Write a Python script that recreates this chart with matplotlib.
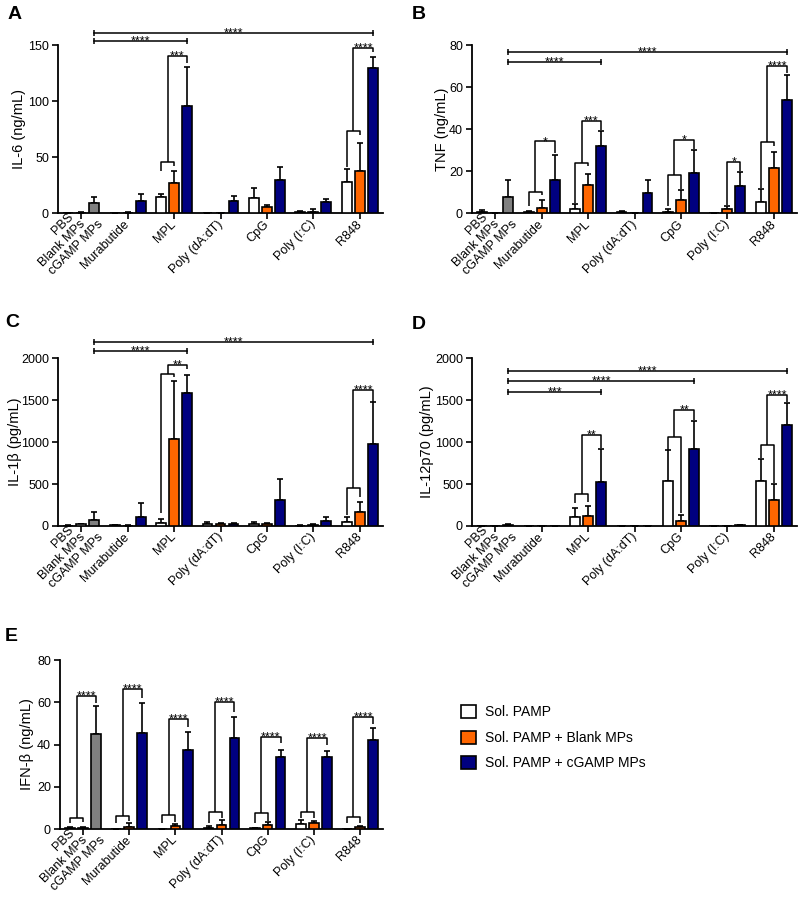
import numpy as np
import matplotlib.pyplot as plt
from matplotlib.patches import Patch

plt.rcParams['font.family'] = ['Liberation Sans', 'DejaVu Sans']

W, H = 800, 897
ORANGE = '#FF6600'
NAVY = '#000080'
GRAY = '#808080'

# x categories: the first group holds the three controls, labelled separately
ctrl_labels = ['PBS', 'Blank MPs', 'cGAMP MPs']
group_labels = ['', 'Murabutide', 'MPL', 'Poly (dA:dT)', 'CpG', 'Poly (I:C)', 'R848']
legend_labels = ['Sol. PAMP', 'Sol. PAMP + Blank MPs', 'Sol. PAMP + cGAMP MPs']

# -----------------------------
# A) IL-6 (ng/mL)
# -----------------------------
il6_sol = [0.2, 0.0, 14.8, 0.0, 14.0, 1.2, 27.6]
il6_sol_err = [0.3, 0.0, 3.0, 0.0, 8.3, 0.8, 11.6]
il6_blank = [0.5, 0.5, 27.3, 0.0, 6.0, 1.5, 38.0]
il6_blank_err = [0.5, 0.5, 10.4, 0.0, 2.0, 2.4, 25.0]
il6_cgamp = [9.0, 11.3, 96.0, 11.0, 29.7, 9.8, 129.8]
il6_cgamp_err = [5.5, 6.2, 34.0, 4.4, 11.9, 2.7, 9.2]
il6_long = [(6, 161, '****'), (2, 153.5, '****')]
il6_groups = [(2, 46, 38, 42, 140.5, 133.6, '***'),
              (6, 73.4, 41, 70, 147.6, 143.5, '****')]
il6_pairs = []

# -----------------------------
# B) TNF (ng/mL)
# -----------------------------
tnf_sol = [0.8, 0.9, 2.0, 0.9, 0.8, 0.0, 5.4]
tnf_sol_err = [0.9, 0.4, 2.6, 0.2, 1.4, 0.0, 6.0]
tnf_blank = [0.0, 2.7, 13.4, 0.3, 6.5, 1.9, 21.5]
tnf_blank_err = [0.0, 3.9, 5.2, 0.0, 4.7, 1.6, 7.8]
tnf_cgamp = [7.7, 15.8, 31.9, 9.6, 19.1, 12.9, 53.8]
tnf_cgamp_err = [8.1, 12.2, 7.4, 6.2, 11.2, 6.7, 12.0]
tnf_long = [(6, 76.8, '****'), (2, 72.1, '****')]
tnf_groups = [(1, 10.3, 3.5, 9.0, 34.2, 28.8, '*'),
              (2, 24.0, 5.2, 22.4, 44.0, 39.8, '***'),
              (4, 18.5, 3.5, 11.8, 35.0, 30.8, '*'),
              (6, 33.9, 12.0, 31.9, 70.2, 66.5, '****')]
tnf_pairs = [(5, 24.3, 4.0, 20.0, '*')]

# -----------------------------
# C) IL-1b (pg/mL)
# -----------------------------
il1b_sol = [5, 8, 32, 20, 24, 5, 48]
il1b_sol_err = [5, 2, 55, 24, 20, 3, 63]
il1b_blank = [20, 4, 1030, 24, 24, 16, 166]
il1b_blank_err = [8, 2, 693, 8, 8, 4, 123]
il1b_cgamp = [71, 111, 1580, 28, 309, 55, 978]
il1b_cgamp_err = [95, 158, 218, 8, 253, 48, 495]
il1b_long = [(6, 2190, '****'), (2, 2079, '****')]
il1b_groups = [(2, 1814, 150, 1774, 1921, 1873, '**'),
               (6, 447, 131, 340, 1616, 1477, '****')]
il1b_pairs = []

# -----------------------------
# D) IL-12p70 (pg/mL)
# -----------------------------
il12_sol = [3, 1, 111, 2, 541, 1, 541]
il12_sol_err = [1, 0, 104, 0, 358, 0, 262]
il12_blank = [2, 1, 123, 1, 60, 3, 314]
il12_blank_err = [0, 0, 116, 0, 67, 0, 187]
il12_cgamp = [16, 1, 525, 2, 914, 6, 1205]
il12_cgamp_err = [4, 0, 397, 0, 334, 2, 254]
il12_long = [(6, 1849, '****'), (4, 1722, '****'), (2, 1594, '***')]
il12_groups = [(2, 378, 278, 290, 1081, 926, '**'),
               (4, 1054, 907, 151, 1384, 1260, '**'),
               (6, 966, 807, 509, 1563, 1471, '****')]
il12_pairs = []

# -----------------------------
# E) IFN-b (ng/mL)
# -----------------------------
ifnb_sol = [0.6, 0.2, 0.2, 0.6, 0.3, 2.2, 0.2]
ifnb_sol_err = [0.5, 0.0, 0.0, 0.8, 0.3, 2.1, 0.0]
ifnb_blank = [0.5, 1.1, 1.6, 1.7, 1.9, 3.0, 0.9]
ifnb_blank_err = [0.3, 1.6, 0.8, 2.6, 1.6, 0.9, 0.5]
ifnb_cgamp = [45.0, 45.3, 37.6, 42.9, 34.2, 33.9, 42.1]
ifnb_cgamp_err = [13.2, 14.2, 8.3, 10.3, 3.2, 3.0, 5.6]
ifnb_long = []
ifnb_groups = [(0, 5.4, 3.0, 3.5, 63.0, 59.5, '****'),
               (1, 6.3, 2.7, 3.9, 66.3, 61.9, '****'),
               (2, 6.6, 2.7, 3.5, 51.9, 48.4, '****'),
               (3, 7.9, 2.7, 5.0, 60.0, 55.5, '****'),
               (4, 7.4, 2.7, 3.9, 43.7, 40.6, '****'),
               (5, 7.9, 5.0, 5.0, 42.9, 39.8, '****'),
               (6, 5.8, 2.7, 2.7, 53.2, 49.7, '****')]
ifnb_pairs = []

OFF = 0.28   # bar offset inside a group
BW = 0.21    # bar width
LW = 1.2
# pixel offsets of the three control labels from the first tick
CTRL_SHIFT = [(-10, 2), (2, 9), (20, 9)]


def br(ax, xs, ys):
    ax.plot(xs, ys, color='black', lw=1.1, clip_on=False, zorder=5,
            solid_capstyle='butt')


def stars(ax, x, y, lab):
    ax.annotate(lab, (x, y), xytext=(0, -2.5), textcoords='offset points',
                ha='center', va='baseline', fontsize=9, annotation_clip=False)


def panel(box, label_right, ymax, ystep, ylabel, series, errs, long_br, grp_br, pair_br):
    x0, y0, x1, y1 = box
    ax = fig.add_axes([x0 / W, 1 - y1 / H, (x1 - x0) / W, (y1 - y0) / H])
    pos = np.arange(len(group_labels))
    colors = [['white'] * 7,
              ['white'] + [ORANGE] * 6,
              [GRAY] + [NAVY] * 6]
    for k, (vals, err) in enumerate(zip(series, errs)):
        xs = pos + (k - 1) * OFF
        ax.errorbar(xs, vals, yerr=[np.zeros(7), err], fmt='none', ecolor='black',
                    elinewidth=LW, capsize=2.5, capthick=LW, zorder=2)
        ax.bar(xs, vals, BW, color=colors[k], edgecolor='black', linewidth=LW, zorder=3)

    for g, h, lab in long_br:
        xa, xb = OFF, g + OFF
        ax.plot([xa, xb], [h, h], color='black', lw=1.1, clip_on=False, zorder=5,
                marker='|', markersize=5, markeredgewidth=1.1)
        stars(ax, (xa + xb) / 2, h, lab)
    for g, h1, le, me, h2, re, lab in grp_br:
        xl, xm, xr = g - OFF, g, g + OFF
        br(ax, [xl, xl, xm, xm], [le, h1, h1, me])
        xc = g - OFF / 2
        br(ax, [xc, xc, xr, xr], [h1, h2, h2, re])
        stars(ax, (xc + xr) / 2, h2, lab)
    for g, h, le, re, lab in pair_br:
        xl, xr = g, g + OFF
        br(ax, [xl, xl, xr, xr], [le, h, h, re])
        stars(ax, (xl + xr) / 2, h, lab)

    ax.set_xlim(-0.5, 6.5)
    ax.set_ylim(0, ymax)
    ax.set_yticks(np.arange(0, ymax + 1, ystep))
    ax.set_xticks(pos)
    ax.set_xticklabels(group_labels, rotation=45, ha='right', va='center',
                       rotation_mode='anchor', fontsize=9)
    for lab, (dx, dy) in zip(ctrl_labels, CTRL_SHIFT):
        ax.annotate(lab, (0, 0), xytext=(dx, -dy), textcoords='offset pixels',
                    rotation=45, ha='right', va='center', rotation_mode='anchor',
                    fontsize=9, annotation_clip=False)
    ax.set_ylabel(ylabel, fontsize=10.5)
    ax.yaxis.set_label_coords((label_right - x0) / (x1 - x0), 0.5)
    for s in ['top', 'right']:
        ax.spines[s].set_visible(False)
    for s in ['left', 'bottom']:
        ax.spines[s].set_linewidth(1.3)
    ax.tick_params(direction='out', length=4.5, width=1.2, labelsize=9, pad=2)
    return ax


fig = plt.figure(figsize=(W / 100, H / 100), dpi=100)

panel((58, 45, 383, 213.5), 26, 150, 50, 'IL-6 (ng/mL)',
      [il6_sol, il6_blank, il6_cgamp], [il6_sol_err, il6_blank_err, il6_cgamp_err],
      il6_long, il6_groups, il6_pairs)
panel((472, 45, 797, 213.5), 449, 80, 20, 'TNF (ng/mL)',
      [tnf_sol, tnf_blank, tnf_cgamp], [tnf_sol_err, tnf_blank_err, tnf_cgamp_err],
      tnf_long, tnf_groups, tnf_pairs)
panel((58, 358, 383, 526), 22, 2000, 500, 'IL-1β (pg/mL)',
      [il1b_sol, il1b_blank, il1b_cgamp], [il1b_sol_err, il1b_blank_err, il1b_cgamp_err],
      il1b_long, il1b_groups, il1b_pairs)
panel((472, 358, 797, 526), 434, 2000, 500, 'IL-12p70 (pg/mL)',
      [il12_sol, il12_blank, il12_cgamp], [il12_sol_err, il12_blank_err, il12_cgamp_err],
      il12_long, il12_groups, il12_pairs)
panel((60, 660, 383, 829), 34, 80, 20, 'IFN-β (ng/mL)',
      [ifnb_sol, ifnb_blank, ifnb_cgamp], [ifnb_sol_err, ifnb_blank_err, ifnb_cgamp_err],
      ifnb_long, ifnb_groups, ifnb_pairs)

for lab, px, py in [('A', 8, 6), ('B', 412, 6), ('C', 5, 314), ('D', 412, 316), ('E', 5, 628)]:
    fig.text(px / W, 1 - py / H, lab, fontsize=14, fontweight='bold', va='top')

handles = [Patch(facecolor=c, edgecolor='black', linewidth=LW, label=l)
           for c, l in zip(['white', ORANGE, NAVY], legend_labels)]
fig.legend(handles=handles, loc='upper left', bbox_to_anchor=(461 / W, 1 - 705 / H),
           frameon=False, fontsize=10, handlelength=1.1, handleheight=1.1,
           handletextpad=0.6, labelspacing=0.8, borderaxespad=0, borderpad=0)

fig.savefig('out.png', dpi=100)
